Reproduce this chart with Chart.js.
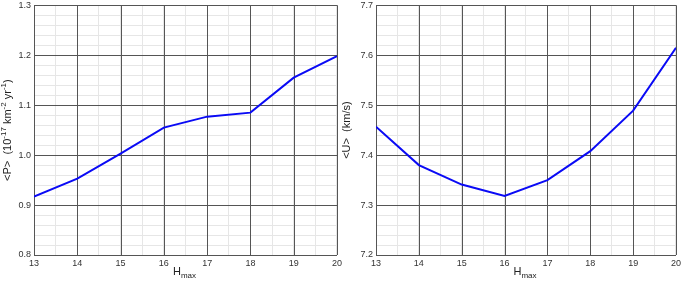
<!DOCTYPE html>
<html>
<head>
<meta charset="utf-8">
<script src="https://cdn.jsdelivr.net/npm/chart.js@4/dist/chart.umd.min.js"></script>
<style>
    html, body { margin: 0; padding: 0; background: #fff; }
    #wrap { position: relative; width: 685px; height: 283px; overflow: hidden; }
    .box { position: absolute; top: 0; height: 283px; }
    #boxP { left: 0; width: 346px; }
    #boxU { left: 340px; width: 345px; }
</style>
</head>
<body>
<div id="wrap">
    <div class="box" id="boxP"><canvas id="chartP"></canvas></div>
    <div class="box" id="boxU"><canvas id="chartU"></canvas></div>
</div>
<script>
const hmax = [13, 14, 15, 16, 17, 18, 19, 20];
const meanP = [0.917, 0.953, 1.003, 1.055, 1.077, 1.085, 1.155, 1.198];
const meanU = [7.457, 7.380, 7.341, 7.318, 7.350, 7.408, 7.489, 7.615];

const FONT = 'Liberation Sans, Arial, Helvetica, sans-serif';

// titles with super/subscripts, drawn by hand
const titleP = [['<P>  (10', 0], ['-17', 1], [' km', 0], ['-2', 1], [' yr', 0], ['-1', 1], [')', 0]];
const titleU = [['<U>  (km/s)', 0]];
const titleX = [['H', 0], ['max', -1]];

function drawRich(ctx, parts, cx, cy, rot) {
    ctx.save();
    ctx.translate(cx, cy);
    if (rot) ctx.rotate(-Math.PI / 2);
    ctx.fillStyle = '#222';
    ctx.textBaseline = 'middle';
    ctx.textAlign = 'left';
    let w = 0;
    parts.forEach(p => {
        ctx.font = (p[1] ? 8 : 11) + 'px ' + FONT;
        w += ctx.measureText(p[0]).width;
    });
    let x = -w / 2;
    parts.forEach(p => {
        ctx.font = (p[1] ? 8 : 11) + 'px ' + FONT;
        const dy = p[1] === 1 ? -4 : (p[1] === -1 ? 4 : 0);
        ctx.fillText(p[0], x, dy);
        x += ctx.measureText(p[0]).width;
    });
    ctx.restore();
}

function isMajor(v, step) {
    const r = v / step;
    return Math.abs(r - Math.round(r)) < 1e-6;
}

// major lines drawn over the light minor grid
function drawMajors(chart) {
    const a = chart.chartArea;
    const c = chart.ctx;
    const xs = chart.scales.x, ys = chart.scales.y;
    c.save();
    c.strokeStyle = '#555';
    c.lineWidth = 1;
    c.beginPath();
    xs.ticks.forEach(t => {
        if (!isMajor(t.value, 1)) return;
        const px = Math.round(xs.getPixelForValue(t.value)) + 0.5;
        c.moveTo(px, a.top);
        c.lineTo(px, a.bottom);
    });
    ys.ticks.forEach(t => {
        if (!isMajor(t.value, 0.1)) return;
        const py = Math.round(ys.getPixelForValue(t.value)) + 0.5;
        c.moveTo(a.left, py);
        c.lineTo(a.right, py);
    });
    c.stroke();
    c.restore();
}

function makeChart(id, values, yMin, yMax, yTitle, yWidth, padRight, titleX0) {
    const ctx = document.getElementById(id).getContext('2d');
    return new Chart(ctx, {
        type: 'line',
        data: {
            datasets: [{
                data: hmax.map((h, i) => ({ x: h, y: values[i] })),
                borderColor: '#0a0af5',
                borderWidth: 2,
                pointRadius: 0,
                tension: 0,
                fill: false
            }]
        },
        options: {
            responsive: true,
            maintainAspectRatio: false,
            animation: false,
            layout: { padding: { top: 4.5, left: 0, right: padRight, bottom: 0 } },
            plugins: { legend: { display: false }, tooltip: { enabled: false } },
            scales: {
                x: {
                    type: 'linear',
                    min: 13,
                    max: 20,
                    afterFit: s => { s.height = 28; },
                    border: { color: '#333', width: 1 },
                    grid: {
                        drawTicks: false,
                        lineWidth: 1,
                        color: '#e6e6e6'
                    },
                    ticks: {
                        stepSize: 0.5,
                        autoSkip: false,
                        maxRotation: 0,
                        padding: 4,
                        color: '#333',
                        font: { family: FONT, size: 9, lineHeight: 1 },
                        callback: v => isMajor(v, 1) ? String(Math.round(v)) : ''
                    }
                },
                y: {
                    min: yMin,
                    max: yMax,
                    afterFit: s => { s.width = yWidth; },
                    border: { color: '#333', width: 1 },
                    grid: {
                        drawTicks: false,
                        lineWidth: 1,
                        color: '#e6e6e6'
                    },
                    ticks: {
                        stepSize: 0.02,
                        autoSkip: false,
                        padding: 3,
                        color: '#333',
                        font: { family: FONT, size: 9, lineHeight: 0.5 },
                        callback: v => isMajor(v, 0.1) ? v.toFixed(1) : ''
                    }
                }
            }
        },
        plugins: [{
            id: 'axisTitles',
            beforeDatasetsDraw: chart => drawMajors(chart),
            afterDraw: chart => {
                const a = chart.chartArea;
                const c = chart.ctx;
                drawRich(c, yTitle, titleX0, (a.top + a.bottom) / 2, true);
                drawRich(c, titleX, (a.left + a.right) / 2 - 1, 272, false);
            }
        }]
    });
}

makeChart('chartP', meanP, 0.8, 1.3, titleP, 34, 6.7, 8);
makeChart('chartU', meanU, 7.2, 7.7, titleU, 36, 5.7, 7);
</script>
</body>
</html>
